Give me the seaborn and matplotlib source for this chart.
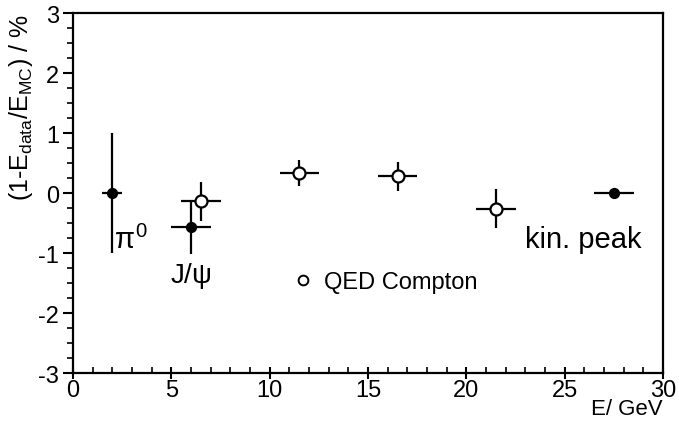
import matplotlib
matplotlib.use("Agg")
import matplotlib.pyplot as plt
import seaborn as sns
import pandas as pd
from matplotlib.ticker import MultipleLocator
from matplotlib.lines import Line2D

# Data
filled_x = [2.0, 6.0, 27.5]
filled_y = [0.0, -0.57, 0.0]
filled_xerr = [0.5, 1.0, 1.0]
filled_yerr = [1.0, 0.45, 0.0]

open_x = [6.5, 11.5, 16.5, 21.5]
open_y = [-0.14, 0.33, 0.28, -0.26]
open_xerr = [1.0, 1.0, 1.0, 1.0]
open_yerr = [0.33, 0.22, 0.24, 0.32]

x_ticks = [0, 5, 10, 15, 20, 25, 30]
y_ticks = [-3, -2, -1, 0, 1, 2, 3]

sns.set_theme(style="ticks")
plt.rcParams['font.family'] = ['Liberation Sans', 'DejaVu Sans']
plt.rcParams['mathtext.fontset'] = 'custom'
plt.rcParams['mathtext.rm'] = 'Liberation Sans'
plt.rcParams['mathtext.it'] = 'Liberation Sans'
plt.rcParams['axes.unicode_minus'] = False
plt.rcParams['text.color'] = 'black'
plt.rcParams['axes.labelcolor'] = 'black'
plt.rcParams['xtick.color'] = 'black'
plt.rcParams['ytick.color'] = 'black'
plt.rcParams['xtick.labelcolor'] = 'black'
plt.rcParams['ytick.labelcolor'] = 'black'

fig = plt.figure(figsize=(6.79, 4.27), dpi=100)
ax = fig.add_axes([0.1075, 0.124, 0.869, 0.843])

df_f = pd.DataFrame({"E": filled_x, "d": filled_y})
df_o = pd.DataFrame({"E": open_x, "d": open_y})

ax.errorbar(filled_x, filled_y, xerr=filled_xerr, yerr=filled_yerr, fmt='none',
            ecolor='black', elinewidth=1.6, capsize=0, zorder=2)
ax.errorbar(open_x, open_y, xerr=open_xerr, yerr=open_yerr, fmt='none',
            ecolor='black', elinewidth=1.6, capsize=0, zorder=2)
sns.scatterplot(data=df_f, x="E", y="d", ax=ax, color='black', s=50,
                edgecolor='black', linewidth=1, zorder=3, legend=False)
sns.scatterplot(data=df_o, x="E", y="d", ax=ax, facecolor='white', s=75,
                edgecolor='black', linewidth=1.6, zorder=3, legend=False)

ax.set_xlim(0, 30)
ax.set_ylim(-3, 3)
ax.set_xticks(x_ticks)
ax.set_yticks(y_ticks)
ax.xaxis.set_minor_locator(MultipleLocator(1))
ax.yaxis.set_minor_locator(MultipleLocator(0.25))
ax.tick_params(axis='both', which='major', labelsize=17, width=1.5, color='black',
               labelcolor='black')
ax.tick_params(axis='y', which='major', direction='out', length=7, pad=3)
ax.tick_params(axis='y', which='minor', direction='out', length=4, width=1.2)
ax.tick_params(axis='x', which='major', direction='inout', length=8, pad=0)
ax.tick_params(axis='x', which='minor', direction='in', length=4, width=1.2)
for s in ax.spines.values():
    s.set_visible(True)
    s.set_linewidth(1.6)
    s.set_color('black')

ax.set_xlabel("E/ GeV", fontsize=16, loc='right', labelpad=-2, color='black')
ax.set_ylabel(r"(1-E$_{\mathrm{data}}$/E$_{\mathrm{MC}}$) / %", fontsize=18,
              loc='top', labelpad=2, color='black')

ax.text(2.1, -0.78, r"$\pi^0$", fontsize=21, ha='left', va='center', color='black')
ax.text(6.0, -1.37, r"J/$\psi$", fontsize=20, ha='center', va='center', color='black')
ax.text(23.0, -0.77, "kin. peak", fontsize=21, ha='left', va='center', color='black')

h = Line2D([], [], marker='o', linestyle='none', markerfacecolor='white',
           markeredgecolor='black', markersize=7, markeredgewidth=1.4)
leg = ax.legend([h], ["QED Compton"], loc='center left', bbox_to_anchor=(0.37, 0.253),
                frameon=False, fontsize=17, handlelength=1.0, handletextpad=0.4,
                borderpad=0, borderaxespad=0)
for t in leg.get_texts():
    t.set_color('black')

fig.savefig("out.png", dpi=100)
